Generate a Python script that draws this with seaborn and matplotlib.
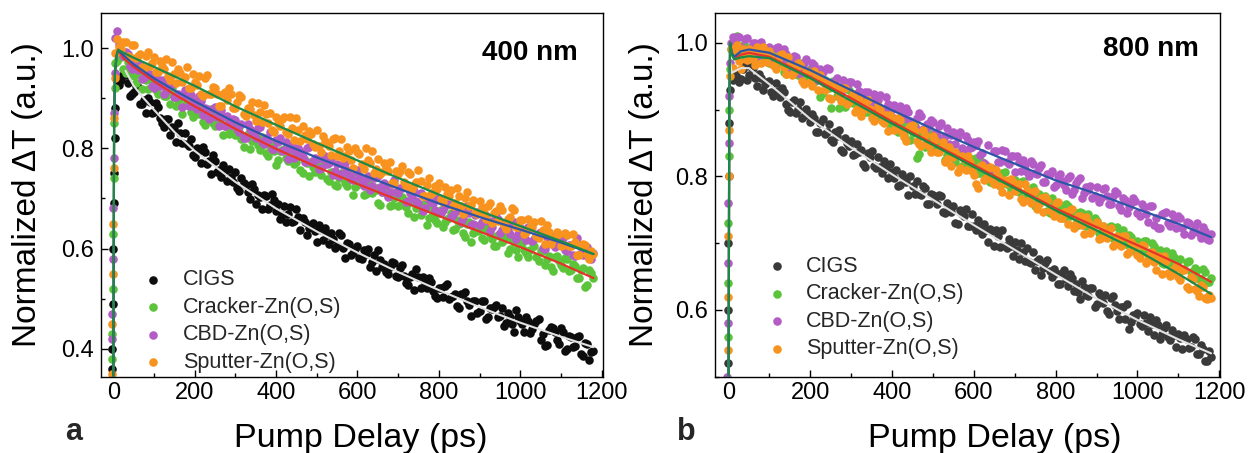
import matplotlib
matplotlib.use("Agg")
import matplotlib.pyplot as plt
import seaborn as sns
from matplotlib.ticker import MultipleLocator, AutoMinorLocator

# ---------------- data ----------------
delay_ps = [-3, -2, -1, 0, 1, 2, 3, 5,
            10, 20, 30, 40, 50, 60, 70, 80, 90,
            100, 110, 120, 130, 140, 150, 160, 170, 180, 190,
            200, 210, 220, 230, 240, 250, 260, 270, 280, 290,
            300, 310, 320, 330, 340, 350, 360, 370, 380, 390,
            400, 410, 420, 430, 440, 450, 460, 470, 480, 490,
            500, 510, 520, 530, 540, 550, 560, 570, 580, 590,
            600, 610, 620, 630, 640, 650, 660, 670, 680, 690,
            700, 710, 720, 730, 740, 750, 760, 770, 780, 790,
            800, 810, 820, 830, 840, 850, 860, 870, 880, 890,
            900, 910, 920, 930, 940, 950, 960, 970, 980, 990,
            1000, 1010, 1020, 1030, 1040, 1050, 1060, 1070, 1080, 1090,
            1100, 1110, 1120, 1130, 1140, 1150, 1160, 1170, 1180]

delay_ps_mid = [15, 25, 35, 45, 55, 65, 75, 85, 95,
                105, 115, 125, 135, 145, 155, 165, 175, 185, 195,
                205, 215, 225, 235, 245, 255, 265, 275, 285, 295,
                305, 315, 325, 335, 345, 355, 365, 375, 385, 395,
                405, 415, 425, 435, 445, 455, 465, 475, 485, 495,
                505, 515, 525, 535, 545, 555, 565, 575, 585, 595,
                605, 615, 625, 635, 645, 655, 665, 675, 685, 695,
                705, 715, 725, 735, 745, 755, 765, 775, 785, 795,
                805, 815, 825, 835, 845, 855, 865, 875, 885, 895,
                905, 915, 925, 935, 945, 955, 965, 975, 985, 995,
                1005, 1015, 1025, 1035, 1045, 1055, 1065, 1075, 1085, 1095,
                1105, 1115, 1125, 1135, 1145, 1155, 1165, 1175]

series_names = ["CIGS", "Cracker-Zn(O,S)", "CBD-Zn(O,S)", "Sputter-Zn(O,S)"]

# ---- panel a: 400 nm ----
cigs_400 = [0.36, 0.40, 0.49, 0.60, 0.69, 0.75, 0.82, 0.88,
            0.935, 0.937, 0.947, 0.905, 0.913, 0.923, 0.889, 0.870, 0.892,
            0.873, 0.883, 0.850, 0.859, 0.826, 0.838, 0.850, 0.811, 0.808, 0.819,
            0.782, 0.795, 0.802, 0.769, 0.748, 0.775, 0.756, 0.767, 0.735, 0.743,
            0.753, 0.714, 0.730, 0.712, 0.729, 0.688, 0.702, 0.706, 0.679, 0.709,
            0.674, 0.659, 0.684, 0.669, 0.653, 0.678, 0.637, 0.653, 0.642, 0.651,
            0.614, 0.637, 0.642, 0.610, 0.619, 0.606, 0.627, 0.582, 0.609, 0.592,
            0.606, 0.580, 0.590, 0.563, 0.587, 0.598, 0.564, 0.553, 0.564, 0.572,
            0.544, 0.568, 0.532, 0.543, 0.518, 0.543, 0.544, 0.522, 0.534, 0.505,
            0.521, 0.503, 0.530, 0.504, 0.510, 0.482, 0.509, 0.495, 0.466, 0.495,
            0.476, 0.495, 0.464, 0.480, 0.488, 0.466, 0.445, 0.472, 0.450, 0.477,
            0.455, 0.434, 0.455, 0.439, 0.455, 0.418, 0.405, 0.437, 0.442, 0.417,
            0.442, 0.395, 0.426, 0.404, 0.423, 0.389, 0.412, 0.378, 0.395]
cigs_400_mid = [0.926, 0.949, 0.931, 0.908, 0.924, 0.889, 0.897, 0.900, 0.871,
                0.891, 0.860, 0.843, 0.858, 0.842, 0.813, 0.831, 0.830, 0.804, 0.787,
                0.800, 0.770, 0.792, 0.774, 0.787, 0.753, 0.742, 0.754, 0.759, 0.732,
                0.721, 0.740, 0.726, 0.698, 0.719, 0.707, 0.678, 0.705, 0.686, 0.697,
                0.688, 0.666, 0.654, 0.683, 0.656, 0.663, 0.662, 0.628, 0.647, 0.636,
                0.648, 0.618, 0.627, 0.632, 0.601, 0.632, 0.601, 0.612, 0.587, 0.599,
                0.582, 0.598, 0.599, 0.573, 0.556, 0.578, 0.569, 0.550, 0.574, 0.546,
                0.562, 0.545, 0.528, 0.550, 0.559, 0.521, 0.534, 0.542, 0.516, 0.501,
                0.522, 0.526, 0.500, 0.506, 0.485, 0.509, 0.513, 0.488, 0.496, 0.471,
                0.495, 0.459, 0.481, 0.484, 0.464, 0.481, 0.452, 0.463, 0.433, 0.463,
                0.449, 0.464, 0.432, 0.450, 0.459, 0.429, 0.407, 0.443, 0.433, 0.410,
                0.433, 0.400, 0.424, 0.406, 0.426, 0.385, 0.410, 0.393]

cracker_400 = [0.38, 0.43, 0.52, 0.63, 0.74, 0.85, 0.92, 0.97,
               0.975, 0.983, 0.950, 0.967, 0.944, 0.949, 0.918, 0.936, 0.943,
               0.932, 0.908, 0.933, 0.905, 0.889, 0.909, 0.897, 0.869, 0.898, 0.873,
               0.891, 0.868, 0.852, 0.872, 0.878, 0.845, 0.854, 0.827, 0.842, 0.848,
               0.826, 0.843, 0.802, 0.828, 0.814, 0.829, 0.797, 0.808, 0.785, 0.806,
               0.767, 0.795, 0.798, 0.774, 0.797, 0.772, 0.757, 0.777, 0.745, 0.763,
               0.768, 0.747, 0.771, 0.735, 0.749, 0.725, 0.751, 0.730, 0.739, 0.707,
               0.727, 0.738, 0.708, 0.713, 0.723, 0.690, 0.712, 0.724, 0.685, 0.700,
               0.684, 0.703, 0.683, 0.692, 0.663, 0.688, 0.674, 0.648, 0.683, 0.658,
               0.671, 0.643, 0.659, 0.671, 0.640, 0.649, 0.631, 0.649, 0.613, 0.648,
               0.638, 0.618, 0.644, 0.619, 0.606, 0.626, 0.617, 0.592, 0.620, 0.598,
               0.617, 0.597, 0.584, 0.613, 0.584, 0.595, 0.568, 0.585, 0.555, 0.586,
               0.567, 0.582, 0.556, 0.569, 0.541, 0.558, 0.524, 0.558, 0.541]
cracker_400_mid = [0.986, 0.959, 0.973, 0.948, 0.931, 0.949, 0.938, 0.919, 0.937,
                   0.917, 0.933, 0.904, 0.911, 0.921, 0.885, 0.900, 0.886, 0.895, 0.862,
                   0.877, 0.880, 0.846, 0.869, 0.851, 0.866, 0.846, 0.863, 0.829, 0.840,
                   0.843, 0.818, 0.824, 0.799, 0.825, 0.806, 0.822, 0.790, 0.805, 0.795,
                   0.777, 0.796, 0.781, 0.797, 0.769, 0.785, 0.750, 0.771, 0.773, 0.753,
                   0.759, 0.767, 0.738, 0.753, 0.726, 0.741, 0.749, 0.724, 0.748, 0.722,
                   0.731, 0.707, 0.732, 0.711, 0.716, 0.686, 0.715, 0.704, 0.687, 0.708,
                   0.686, 0.697, 0.670, 0.694, 0.680, 0.666, 0.690, 0.662, 0.669, 0.651,
                   0.676, 0.654, 0.661, 0.637, 0.658, 0.651, 0.624, 0.653, 0.631, 0.636,
                   0.622, 0.640, 0.629, 0.606, 0.627, 0.614, 0.628, 0.599, 0.613, 0.584,
                   0.612, 0.591, 0.598, 0.606, 0.576, 0.595, 0.579, 0.563, 0.584, 0.575,
                   0.561, 0.580, 0.558, 0.565, 0.542, 0.562, 0.528, 0.552]

cbd_400 = [0.42, 0.47, 0.58, 0.68, 0.78, 0.87, 0.95, 1.02,
           1.035, 0.992, 0.992, 0.964, 0.979, 0.956, 0.939, 0.951, 0.949,
           0.920, 0.934, 0.937, 0.914, 0.933, 0.902, 0.908, 0.883, 0.905, 0.906,
           0.883, 0.904, 0.866, 0.878, 0.863, 0.882, 0.845, 0.864, 0.864, 0.847,
           0.857, 0.832, 0.820, 0.848, 0.834, 0.821, 0.842, 0.808, 0.817, 0.798,
           0.816, 0.821, 0.797, 0.778, 0.806, 0.791, 0.795, 0.772, 0.803, 0.772,
           0.778, 0.760, 0.784, 0.770, 0.746, 0.769, 0.748, 0.771, 0.746, 0.736,
           0.756, 0.735, 0.739, 0.716, 0.740, 0.744, 0.713, 0.726, 0.712, 0.736,
           0.711, 0.721, 0.692, 0.710, 0.715, 0.690, 0.675, 0.701, 0.693, 0.676,
           0.701, 0.677, 0.688, 0.663, 0.675, 0.683, 0.662, 0.685, 0.647, 0.666,
           0.648, 0.670, 0.655, 0.643, 0.670, 0.632, 0.649, 0.638, 0.649, 0.619,
           0.642, 0.625, 0.644, 0.615, 0.627, 0.634, 0.599, 0.623, 0.611, 0.621,
           0.626, 0.598, 0.608, 0.587, 0.621, 0.591, 0.605, 0.582, 0.591]
cbd_400_mid = [1.008, 0.984, 0.988, 0.959, 0.964, 0.967, 0.941, 0.947, 0.925,
               0.942, 0.925, 0.908, 0.926, 0.928, 0.903, 0.906, 0.916, 0.885, 0.895,
               0.878, 0.894, 0.881, 0.859, 0.878, 0.862, 0.876, 0.845, 0.857, 0.859,
               0.838, 0.849, 0.820, 0.839, 0.829, 0.840, 0.813, 0.820, 0.832, 0.798,
               0.812, 0.794, 0.813, 0.798, 0.780, 0.801, 0.782, 0.801, 0.773, 0.780,
               0.758, 0.779, 0.768, 0.779, 0.754, 0.745, 0.767, 0.756, 0.738, 0.755,
               0.744, 0.724, 0.745, 0.725, 0.746, 0.723, 0.731, 0.702, 0.729, 0.713,
               0.720, 0.723, 0.695, 0.706, 0.694, 0.710, 0.680, 0.698, 0.690, 0.701,
               0.671, 0.685, 0.689, 0.667, 0.675, 0.654, 0.677, 0.670, 0.650, 0.673,
               0.654, 0.665, 0.636, 0.657, 0.660, 0.637, 0.644, 0.629, 0.654, 0.629,
               0.639, 0.617, 0.642, 0.620, 0.631, 0.601, 0.623, 0.626, 0.603, 0.612,
               0.621, 0.596, 0.607, 0.586, 0.607, 0.588, 0.604, 0.579]

sputter_400 = [0.35, 0.45, 0.55, 0.65, 0.76, 0.86, 0.94, 0.99,
               1.018, 0.999, 1.013, 0.982, 1.006, 0.984, 0.963, 0.984, 0.965,
               0.983, 0.952, 0.964, 0.978, 0.937, 0.949, 0.959, 0.932, 0.962, 0.921,
               0.933, 0.945, 0.904, 0.946, 0.909, 0.920, 0.884, 0.909, 0.897, 0.909,
               0.880, 0.906, 0.868, 0.881, 0.892, 0.854, 0.872, 0.886, 0.851, 0.836,
               0.863, 0.844, 0.863, 0.829, 0.841, 0.860, 0.814, 0.827, 0.835, 0.808,
               0.836, 0.793, 0.814, 0.804, 0.818, 0.784, 0.818, 0.784, 0.795, 0.761,
               0.792, 0.768, 0.800, 0.770, 0.751, 0.779, 0.753, 0.763, 0.772, 0.731,
               0.749, 0.764, 0.725, 0.748, 0.727, 0.757, 0.704, 0.727, 0.709, 0.725,
               0.730, 0.693, 0.708, 0.717, 0.691, 0.705, 0.669, 0.713, 0.686, 0.671,
               0.694, 0.670, 0.685, 0.651, 0.675, 0.684, 0.647, 0.659, 0.681, 0.643,
               0.657, 0.629, 0.660, 0.643, 0.626, 0.656, 0.609, 0.634, 0.620, 0.634,
               0.606, 0.631, 0.606, 0.629, 0.587, 0.606, 0.608, 0.580, 0.589]
sputter_400_mid = [1.003, 1.013, 0.985, 1.007, 0.980, 0.988, 0.961, 0.992, 0.971,
                   0.952, 0.975, 0.958, 0.944, 0.973, 0.930, 0.951, 0.943, 0.921, 0.949,
                   0.927, 0.908, 0.940, 0.908, 0.923, 0.909, 0.885, 0.913, 0.921, 0.881,
                   0.893, 0.902, 0.865, 0.879, 0.866, 0.891, 0.852, 0.868, 0.871, 0.833,
                   0.850, 0.858, 0.833, 0.863, 0.817, 0.836, 0.845, 0.819, 0.829, 0.803,
                   0.804, 0.825, 0.809, 0.787, 0.820, 0.795, 0.780, 0.802, 0.777, 0.801,
                   0.788, 0.758, 0.777, 0.794, 0.758, 0.748, 0.771, 0.755, 0.730, 0.754,
                   0.755, 0.732, 0.753, 0.719, 0.733, 0.735, 0.705, 0.740, 0.713, 0.718,
                   0.699, 0.722, 0.704, 0.684, 0.720, 0.685, 0.700, 0.685, 0.697, 0.669,
                   0.682, 0.660, 0.690, 0.670, 0.656, 0.677, 0.640, 0.663, 0.677, 0.644,
                   0.658, 0.633, 0.643, 0.654, 0.621, 0.637, 0.648, 0.609, 0.622, 0.629,
                   0.607, 0.627, 0.605, 0.614, 0.587, 0.610, 0.589, 0.595]

fit_x_400 = [0, 1, 2, 4, 8, 12, 25, 50, 100, 150,
             200, 300, 400, 500, 600, 700, 800, 900, 1000, 1100, 1180]
fit_cracker_400 = [0.30, 0.60, 0.85, 0.95, 0.985, 0.997, 0.980, 0.963, 0.934, 0.908,
                   0.884, 0.839, 0.799, 0.763, 0.729, 0.697, 0.665, 0.634, 0.603, 0.570, 0.541]
fit_cbd_400 = [0.30, 0.60, 0.85, 0.95, 0.985, 0.997, 0.986, 0.968, 0.940, 0.916,
               0.894, 0.852, 0.815, 0.782, 0.751, 0.720, 0.690, 0.663, 0.638, 0.612, 0.589]
fit_sputter_400 = [0.30, 0.60, 0.85, 0.95, 0.985, 0.997, 0.991, 0.981, 0.963, 0.944,
                   0.925, 0.884, 0.847, 0.811, 0.776, 0.741, 0.708, 0.675, 0.645, 0.615, 0.589]
fit_x_cigs_400 = [30, 50, 75, 100, 150, 200, 300, 400, 500, 600, 700, 800, 900, 1000, 1100, 1180]
fit_cigs_400 = [0.955, 0.925, 0.900, 0.877, 0.833, 0.795, 0.733, 0.680, 0.634, 0.592,
                0.553, 0.517, 0.483, 0.452, 0.424, 0.403]

# ---- panel b: 800 nm ----
cigs_800 = [0.47, 0.52, 0.60, 0.70, 0.80, 0.88, 0.93, 0.95,
            0.944, 0.949, 0.946, 0.965, 0.952, 0.962, 0.936, 0.948, 0.938,
            0.943, 0.920, 0.928, 0.932, 0.909, 0.896, 0.914, 0.901, 0.887, 0.901,
            0.881, 0.887, 0.866, 0.886, 0.866, 0.855, 0.867, 0.869, 0.836, 0.850,
            0.853, 0.834, 0.837, 0.818, 0.835, 0.838, 0.812, 0.814, 0.823, 0.797,
            0.807, 0.810, 0.787, 0.798, 0.772, 0.786, 0.793, 0.772, 0.782, 0.758,
            0.772, 0.758, 0.771, 0.745, 0.751, 0.756, 0.729, 0.743, 0.751, 0.725,
            0.725, 0.735, 0.713, 0.720, 0.721, 0.695, 0.711, 0.719, 0.692, 0.695,
            0.701, 0.677, 0.686, 0.692, 0.671, 0.660, 0.676, 0.663, 0.675, 0.650,
            0.655, 0.639, 0.660, 0.636, 0.648, 0.639, 0.616, 0.635, 0.621, 0.633,
            0.609, 0.619, 0.622, 0.594, 0.621, 0.599, 0.604, 0.586, 0.571, 0.592,
            0.595, 0.576, 0.581, 0.589, 0.562, 0.577, 0.564, 0.577, 0.555, 0.562,
            0.564, 0.541, 0.556, 0.545, 0.557, 0.534, 0.541, 0.524, 0.529]
cigs_800_mid = [0.955, 0.941, 0.961, 0.945, 0.964, 0.947, 0.954, 0.930, 0.942,
                0.926, 0.940, 0.919, 0.927, 0.900, 0.911, 0.895, 0.912, 0.891, 0.894,
                0.893, 0.867, 0.880, 0.864, 0.879, 0.852, 0.860, 0.840, 0.858, 0.846,
                0.832, 0.848, 0.839, 0.814, 0.829, 0.816, 0.829, 0.805, 0.812, 0.818,
                0.798, 0.786, 0.803, 0.792, 0.800, 0.773, 0.774, 0.786, 0.758, 0.774,
                0.768, 0.772, 0.746, 0.760, 0.746, 0.730, 0.750, 0.740, 0.726, 0.744,
                0.719, 0.726, 0.729, 0.702, 0.718, 0.720, 0.694, 0.696, 0.706, 0.681,
                0.690, 0.700, 0.673, 0.672, 0.686, 0.674, 0.653, 0.671, 0.658, 0.661,
                0.639, 0.656, 0.647, 0.654, 0.628, 0.627, 0.644, 0.622, 0.633, 0.604,
                0.625, 0.610, 0.599, 0.618, 0.608, 0.587, 0.604, 0.609, 0.582, 0.589,
                0.579, 0.592, 0.569, 0.579, 0.585, 0.557, 0.573, 0.560, 0.570, 0.544,
                0.558, 0.562, 0.543, 0.559, 0.534, 0.547, 0.523, 0.539]

cracker_800 = [0.49, 0.56, 0.64, 0.73, 0.83, 0.90, 0.96, 0.99,
               0.993, 1.010, 0.978, 0.995, 0.981, 0.992, 0.972, 0.984, 0.986,
               0.970, 0.988, 0.970, 0.977, 0.954, 0.968, 0.970, 0.952, 0.956, 0.942,
               0.960, 0.941, 0.951, 0.925, 0.942, 0.903, 0.933, 0.902, 0.936, 0.912,
               0.919, 0.924, 0.898, 0.912, 0.897, 0.914, 0.887, 0.897, 0.887, 0.897,
               0.875, 0.882, 0.887, 0.862, 0.877, 0.865, 0.827, 0.865, 0.844, 0.861,
               0.862, 0.840, 0.845, 0.824, 0.846, 0.829, 0.837, 0.816, 0.837, 0.817,
               0.823, 0.805, 0.822, 0.808, 0.791, 0.809, 0.792, 0.805, 0.789, 0.779,
               0.794, 0.777, 0.793, 0.767, 0.774, 0.756, 0.774, 0.766, 0.748, 0.768,
               0.750, 0.756, 0.737, 0.756, 0.746, 0.730, 0.746, 0.729, 0.744, 0.721,
               0.733, 0.710, 0.723, 0.724, 0.708, 0.724, 0.706, 0.698, 0.712, 0.701,
               0.703, 0.686, 0.703, 0.686, 0.695, 0.685, 0.670, 0.688, 0.671, 0.679,
               0.674, 0.660, 0.672, 0.657, 0.663, 0.647, 0.661, 0.642, 0.648]
cracker_800_mid = [1.003, 0.984, 0.996, 0.982, 0.990, 0.975, 0.996, 0.977, 0.982,
                   0.988, 0.967, 0.976, 0.957, 0.975, 0.964, 0.953, 0.969, 0.949, 0.957,
                   0.945, 0.954, 0.919, 0.945, 0.933, 0.943, 0.920, 0.930, 0.904, 0.929,
                   0.910, 0.915, 0.921, 0.897, 0.907, 0.887, 0.904, 0.889, 0.901, 0.877,
                   0.885, 0.867, 0.882, 0.873, 0.854, 0.875, 0.833, 0.864, 0.851, 0.863,
                   0.839, 0.850, 0.854, 0.832, 0.837, 0.821, 0.837, 0.839, 0.818, 0.826,
                   0.827, 0.805, 0.812, 0.794, 0.812, 0.804, 0.786, 0.806, 0.787, 0.794,
                   0.779, 0.792, 0.767, 0.779, 0.784, 0.760, 0.765, 0.770, 0.745, 0.759,
                   0.760, 0.743, 0.758, 0.740, 0.747, 0.727, 0.745, 0.725, 0.733, 0.738,
                   0.715, 0.726, 0.716, 0.726, 0.703, 0.714, 0.720, 0.699, 0.709, 0.688,
                   0.699, 0.703, 0.683, 0.700, 0.681, 0.690, 0.669, 0.681, 0.685, 0.665,
                   0.677, 0.661, 0.673, 0.649, 0.660, 0.646, 0.657, 0.642]

cbd_800 = [0.50, 0.58, 0.67, 0.76, 0.85, 0.92, 0.97, 1.00,
           1.009, 1.008, 0.993, 1.006, 0.991, 1.000, 0.983, 1.001, 0.985,
           0.994, 0.976, 0.993, 0.973, 0.983, 0.962, 0.980, 0.970, 0.957, 0.976,
           0.956, 0.966, 0.944, 0.956, 0.962, 0.939, 0.943, 0.927, 0.944, 0.936,
           0.941, 0.919, 0.928, 0.908, 0.927, 0.915, 0.902, 0.922, 0.901, 0.909,
           0.889, 0.902, 0.906, 0.888, 0.897, 0.871, 0.887, 0.890, 0.869, 0.876,
           0.881, 0.862, 0.880, 0.861, 0.849, 0.866, 0.859, 0.843, 0.861, 0.842,
           0.851, 0.853, 0.835, 0.817, 0.809, 0.838, 0.821, 0.840, 0.821, 0.831,
           0.807, 0.822, 0.824, 0.806, 0.823, 0.805, 0.812, 0.792, 0.803, 0.808,
           0.787, 0.804, 0.787, 0.797, 0.773, 0.790, 0.797, 0.775, 0.780, 0.767,
           0.784, 0.768, 0.782, 0.759, 0.770, 0.775, 0.749, 0.765, 0.754, 0.767,
           0.745, 0.758, 0.744, 0.755, 0.727, 0.722, 0.744, 0.746, 0.726, 0.734,
           0.741, 0.722, 0.732, 0.712, 0.725, 0.715, 0.724, 0.706, 0.713]
cbd_800_mid = [0.999, 1.008, 0.990, 1.007, 0.992, 1.000, 0.980, 0.994, 0.989,
               0.976, 0.992, 0.974, 0.990, 0.965, 0.973, 0.978, 0.954, 0.970, 0.958,
               0.970, 0.949, 0.961, 0.938, 0.961, 0.939, 0.947, 0.924, 0.937, 0.941,
               0.921, 0.938, 0.920, 0.927, 0.904, 0.924, 0.914, 0.898, 0.919, 0.896,
               0.907, 0.882, 0.898, 0.902, 0.883, 0.874, 0.895, 0.871, 0.878, 0.884,
               0.865, 0.875, 0.853, 0.872, 0.862, 0.849, 0.867, 0.840, 0.854, 0.844,
               0.847, 0.832, 0.820, 0.847, 0.811, 0.838, 0.822, 0.838, 0.819, 0.830,
               0.831, 0.808, 0.817, 0.800, 0.818, 0.803, 0.817, 0.792, 0.804, 0.784,
               0.801, 0.793, 0.779, 0.800, 0.779, 0.794, 0.767, 0.784, 0.786, 0.771,
               0.762, 0.781, 0.771, 0.758, 0.778, 0.756, 0.768, 0.745, 0.760, 0.763,
               0.741, 0.754, 0.732, 0.755, 0.738, 0.723, 0.745, 0.730, 0.743, 0.722,
               0.738, 0.714, 0.730, 0.717, 0.730, 0.707, 0.718, 0.704]

sputter_800 = [0.48, 0.54, 0.62, 0.71, 0.80, 0.87, 0.95, 0.99,
               0.962, 0.997, 0.960, 0.984, 0.990, 0.975, 0.993, 0.969, 0.981,
               0.988, 0.967, 0.973, 0.983, 0.953, 0.967, 0.956, 0.969, 0.943, 0.958,
               0.942, 0.958, 0.929, 0.941, 0.942, 0.916, 0.934, 0.921, 0.932, 0.908,
               0.919, 0.897, 0.916, 0.899, 0.915, 0.887, 0.894, 0.900, 0.880, 0.868,
               0.887, 0.873, 0.885, 0.859, 0.871, 0.877, 0.853, 0.845, 0.862, 0.845,
               0.860, 0.836, 0.843, 0.821, 0.844, 0.829, 0.807, 0.831, 0.810, 0.821,
               0.802, 0.783, 0.817, 0.798, 0.814, 0.788, 0.800, 0.777, 0.790, 0.796,
               0.778, 0.789, 0.761, 0.779, 0.760, 0.778, 0.759, 0.746, 0.764, 0.746,
               0.760, 0.737, 0.747, 0.728, 0.751, 0.729, 0.740, 0.713, 0.731, 0.720,
               0.731, 0.708, 0.716, 0.720, 0.696, 0.711, 0.695, 0.711, 0.686, 0.694,
               0.682, 0.697, 0.670, 0.684, 0.672, 0.681, 0.654, 0.673, 0.651, 0.662,
               0.649, 0.660, 0.635, 0.649, 0.631, 0.621, 0.635, 0.617, 0.618]
sputter_800_mid = [0.988, 0.972, 0.991, 0.974, 0.983, 0.967, 0.988, 0.994, 0.971,
                   0.982, 0.960, 0.981, 0.963, 0.979, 0.952, 0.960, 0.967, 0.938, 0.956,
                   0.935, 0.950, 0.952, 0.929, 0.917, 0.939, 0.929, 0.913, 0.932, 0.912,
                   0.924, 0.901, 0.891, 0.910, 0.901, 0.883, 0.906, 0.883, 0.892, 0.892,
                   0.869, 0.888, 0.867, 0.853, 0.875, 0.868, 0.848, 0.869, 0.850, 0.836,
                   0.855, 0.836, 0.851, 0.826, 0.815, 0.836, 0.812, 0.826, 0.830, 0.808,
                   0.788, 0.815, 0.794, 0.813, 0.794, 0.810, 0.785, 0.794, 0.772, 0.792,
                   0.783, 0.766, 0.788, 0.764, 0.777, 0.751, 0.767, 0.769, 0.750, 0.741,
                   0.761, 0.737, 0.747, 0.750, 0.722, 0.741, 0.727, 0.739, 0.715, 0.727,
                   0.706, 0.725, 0.707, 0.723, 0.698, 0.701, 0.711, 0.684, 0.701, 0.695,
                   0.678, 0.696, 0.675, 0.686, 0.660, 0.675, 0.680, 0.655, 0.657, 0.666,
                   0.645, 0.660, 0.632, 0.647, 0.628, 0.638, 0.618, 0.622]

fit_x_800 = [0, 2, 4, 8, 14, 30, 50, 100,
             200, 300, 400, 500, 600, 700, 800, 900, 1000, 1100, 1180]
fit_cigs_800 = [0.45, 0.88, 0.97, 0.955, 0.957, 0.962, 0.962, 0.938,
                0.886, 0.843, 0.803, 0.765, 0.727, 0.690, 0.653, 0.617, 0.585, 0.556, 0.535]
fit_cracker_800 = [0.45, 0.90, 1.00, 0.985, 0.977, 0.982, 0.985, 0.979,
                   0.949, 0.917, 0.882, 0.849, 0.817, 0.784, 0.752, 0.724, 0.697, 0.669, 0.642]
fit_cbd_800 = [0.45, 0.90, 1.00, 0.985, 0.979, 0.987, 0.990, 0.985,
               0.959, 0.929, 0.899, 0.871, 0.844, 0.819, 0.794, 0.774, 0.751, 0.729, 0.709]
fit_sputter_800 = [0.45, 0.90, 1.00, 0.982, 0.975, 0.978, 0.980, 0.977,
                   0.947, 0.913, 0.879, 0.847, 0.814, 0.782, 0.749, 0.719, 0.689, 0.654, 0.624]

for arr in (cigs_400, cracker_400, cbd_400, sputter_400,
            cigs_800, cracker_800, cbd_800, sputter_800):
    assert len(arr) == len(delay_ps), len(arr)
for arr in (cigs_400_mid, cracker_400_mid, cbd_400_mid, sputter_400_mid,
            cigs_800_mid, cracker_800_mid, cbd_800_mid, sputter_800_mid):
    assert len(arr) == len(delay_ps_mid), len(arr)

# ---------------- style ----------------
sns.set_theme(style="ticks")
plt.rcParams["font.family"] = ["Liberation Sans", "DejaVu Sans"]
plt.rcParams["axes.edgecolor"] = "black"
plt.rcParams["axes.linewidth"] = 1.0

pt_colors_400 = ["#0d0d0d", "#5cc43a", "#b45cc6", "#f7931e"]
pt_colors_800 = ["#3a3a3a", "#5cc43a", "#b45cc6", "#f7931e"]
col_white = "#e2e2e2"
col_red = "#e6332a"
col_blue = "#2c55a8"
col_green = "#1a8a47"

fig = plt.figure(figsize=(12.57, 4.53), dpi=100)
ax1 = fig.add_axes([0.0801, 0.1684, 0.3998, 0.8035])
ax2 = fig.add_axes([0.5688, 0.1684, 0.4015, 0.8035])


def draw_panel(ax, pts, pts_mid, colors, fits):
    for name, vals, vals_mid, c in zip(series_names, pts, pts_mid, colors):
        sns.scatterplot(x=delay_ps + delay_ps_mid, y=vals + vals_mid, color=c, s=38,
                        linewidth=0, ax=ax, label=name, zorder=2)
    for fx, fy, lc, lw in fits:
        sns.lineplot(x=fx, y=fy, color=lc, lw=lw, ax=ax, estimator=None,
                     sort=False, legend=False, zorder=3)


draw_panel(ax1, [cigs_400, cracker_400, cbd_400, sputter_400],
           [cigs_400_mid, cracker_400_mid, cbd_400_mid, sputter_400_mid], pt_colors_400,
           [(fit_x_cigs_400, fit_cigs_400, col_white, 1.5),
            (fit_x_400, fit_cracker_400, col_red, 1.6),
            (fit_x_400, fit_cbd_400, col_blue, 1.6),
            (fit_x_400, fit_sputter_400, col_green, 1.6)])
draw_panel(ax2, [cigs_800, cracker_800, cbd_800, sputter_800],
           [cigs_800_mid, cracker_800_mid, cbd_800_mid, sputter_800_mid], pt_colors_800,
           [(fit_x_800, fit_cigs_800, col_white, 1.5),
            (fit_x_800, fit_cracker_800, col_red, 1.6),
            (fit_x_800, fit_cbd_800, col_blue, 1.6),
            (fit_x_800, fit_sputter_800, col_green, 1.6)])

ax1.set_xlim(-31, 1204)
ax1.set_ylim(0.344, 1.071)
ax2.set_xlim(-33, 1201)
ax2.set_ylim(0.500, 1.045)

for ax in (ax1, ax2):
    ax.xaxis.set_major_locator(MultipleLocator(200))
    ax.xaxis.set_minor_locator(AutoMinorLocator(2))
    ax.yaxis.set_major_locator(MultipleLocator(0.2))
    ax.yaxis.set_minor_locator(AutoMinorLocator(2))
    ax.tick_params(axis="both", which="major", direction="in", length=5, width=1.0,
                   labelsize=17, pad=4, color="black", labelcolor="black",
                   top=False, right=False)
    ax.tick_params(axis="y", which="major", pad=5)
    ax.tick_params(axis="both", which="minor", direction="in", length=3, width=1.0,
                   color="black", top=False, right=False)
    for sp in ax.spines.values():
        sp.set_visible(True)
        sp.set_color("black")
        sp.set_linewidth(1.0)
    ax.set_facecolor("white")
    ax.set_xlabel("Pump Delay (ps)", fontsize=24.5, va="baseline", color="black")
    ax.set_ylabel("Normalized \u0394T (a.u.)", fontsize=24, va="center", color="black")

ax1.xaxis.set_label_coords(0.517, -0.193)
ax2.xaxis.set_label_coords(0.555, -0.193)
ax1.yaxis.set_label_coords(-0.145, 0.5)
ax2.yaxis.set_label_coords(-0.14, 0.5)

ax1.text(0.950, 0.890, "400 nm", transform=ax1.transAxes, ha="right", va="center",
         fontsize=20, fontweight="bold", color="black")
ax2.text(0.958, 0.899, "800 nm", transform=ax2.transAxes, ha="right", va="center",
         fontsize=20, fontweight="bold", color="black")

leg_kw = dict(loc="upper left", frameon=False, fontsize=15.5, borderaxespad=0,
              borderpad=0, handlelength=1.0, labelspacing=0.30, markerscale=1.0)
ax1.legend(bbox_to_anchor=(0.083, 0.295), handletextpad=0.9, **leg_kw)
ax2.legend(bbox_to_anchor=(0.1016, 0.332), handletextpad=0.86, **leg_kw)

fig.text(0.0585, 0.0287, "a", fontsize=22, fontweight="bold", ha="center", va="baseline")
fig.text(0.5463, 0.0287, "b", fontsize=22, fontweight="bold", ha="center", va="baseline")

fig.savefig("out.png", dpi=100, facecolor="white")
